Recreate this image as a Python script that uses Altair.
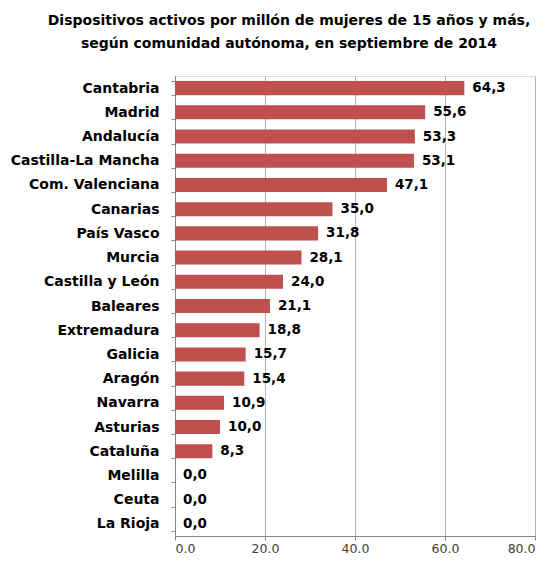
import altair as alt
import pandas as pd

regions = ["Cantabria", "Madrid", "Andalucía", "Castilla-La Mancha", "Com. Valenciana",
           "Canarias", "País Vasco", "Murcia", "Castilla y León", "Baleares",
           "Extremadura", "Galicia", "Aragón", "Navarra", "Asturias", "Cataluña",
           "Melilla", "Ceuta", "La Rioja"]
values = [64.3, 55.6, 53.3, 53.1, 47.1, 35.0, 31.8, 28.1, 24.0, 21.1,
          18.8, 15.7, 15.4, 10.9, 10.0, 8.3, 0.0, 0.0, 0.0]
x_ticks = [0, 20, 40, 60, 80]

df = pd.DataFrame({"region": regions, "value": values})
df["label"] = [f"{v:.1f}".replace(".", ",") for v in values]

FONT = "DejaVu Sans"

y_enc = alt.Y("region:N", sort=regions, title=None,
              scale=alt.Scale(paddingInner=0.42, paddingOuter=0.21),
              axis=alt.Axis(labelFont=FONT, labelFontWeight="bold", labelFontSize=14,
                            labelColor="#000000", labelPadding=12, domainColor="#868686",
                            tickColor="#868686", tickBand="extent", tickSize=4,
                            ticks=True, grid=False))
x_enc = alt.X("value:Q", title=None,
              scale=alt.Scale(domain=[0, 80], nice=False),
              axis=alt.Axis(values=x_ticks, format=".1f", labelFont=FONT,
                            labelFontSize=12.5, labelColor="#404040", labelPadding=2,
                            domainColor="#868686", tickColor="#868686", tickSize=4,
                            grid=True, gridColor="#b3b3b3", gridWidth=1))

bars = alt.Chart(df).mark_bar(color="#c0504d").encode(x=x_enc, y=y_enc)
text = alt.Chart(df).mark_text(align="left", baseline="middle", dx=8, font=FONT,
                               fontWeight="bold", fontSize=13.5, color="#000000").encode(
    x="value:Q", y=alt.Y("region:N", sort=regions), text="label:N")

chart = (bars + text).properties(
    width=360, height=460,
    title=alt.Title(["Dispositivos activos por millón de mujeres de 15 años y más,",
                     "según comunidad autónoma, en septiembre de 2014"],
                    font=FONT, fontSize=14, fontWeight="bold", color="#000000",
                    anchor="middle", dx=-66, offset=18, lineHeight=23),
    autosize=alt.AutoSizeParams(type="none"),
    padding={"left": 167, "top": 68, "right": 12, "bottom": 24},
).configure_view(stroke=None).configure(background="#ffffff")

chart.save("out.html", embed_options={"renderer": "svg", "actions": False})
